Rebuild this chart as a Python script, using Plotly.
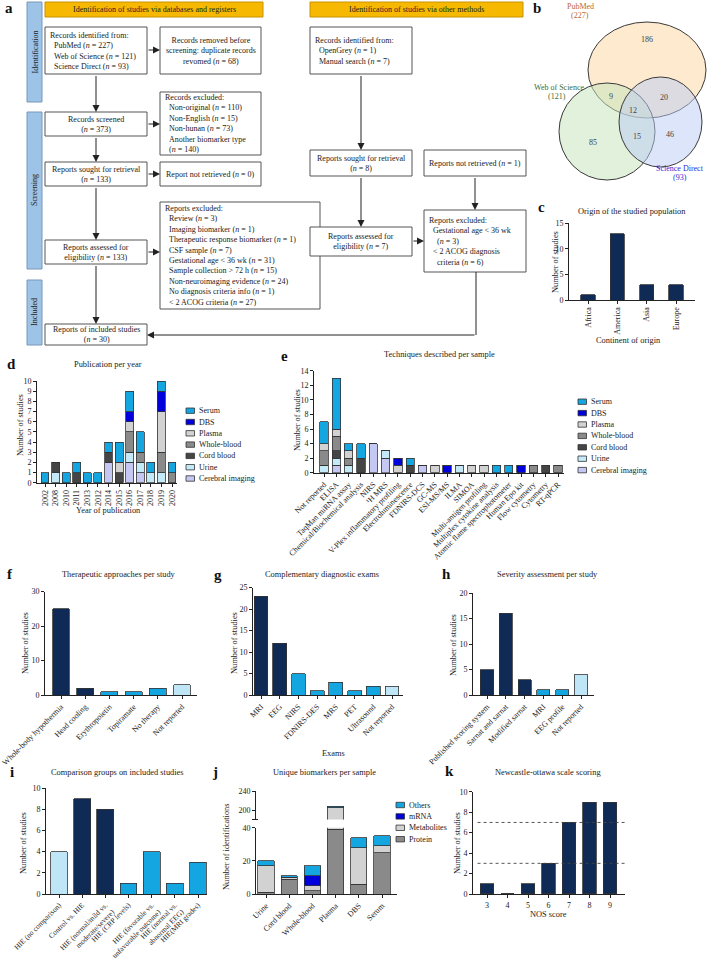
import plotly.graph_objects as go

W, H = 708, 962
FONT = "Liberation Serif"
INK = "#222222"

# ---------------- data ----------------
continents = ["Africa", "America", "Asia", "Europe"]
continent_counts = [1, 13, 3, 3]

years = ["2002", "2008", "2010", "2011", "2013", "2012", "2014", "2015", "2016", "2017", "2018", "2019", "2020"]
year_cerebral = [0, 0, 0, 0, 0, 0, 2, 0, 2, 1, 0, 0, 0]
year_urine    = [0, 1, 0, 0, 0, 0, 0, 0, 1, 1, 1, 1, 0]
year_cord     = [0, 1, 0, 1, 0, 0, 1, 1, 0, 0, 0, 0, 0]
year_whole    = [0, 0, 0, 0, 0, 0, 0, 0, 2, 1, 0, 2, 1]
year_plasma   = [0, 0, 0, 0, 0, 0, 0, 1, 1, 0, 0, 4, 0]
year_dbs      = [0, 0, 0, 0, 0, 0, 0, 0, 1, 0, 0, 2, 0]
year_serum    = [1, 0, 1, 1, 1, 1, 1, 2, 2, 2, 1, 1, 1]

sample_names = ["Cerebral imaging", "Urine", "Cord blood", "Whole-blood", "Plasma", "DBS", "Serum"]

techniques = ["Not reported", "ELISA", "TaqMan miRNA assay", "Chemical/Biochemical analysis", "NIRS",
              "\u00b9H MRS", "V-Plex inflammatory profiling", "Electroluminescence", "FDNIRS-DCS", "GC-MS",
              "ESI-MS/MS", "ILMA", "SIMOA", "Multi-antigen profiling", "Multiplex cytokine analysis",
              "Atomic flame spectrophotometer", "Human Epo kit", "Flow cytometry", "Cytometry", "RT-qPCR"]
tech_cerebral = [0, 1, 0, 0, 4, 2, 0, 0, 1, 0, 0, 0, 0, 0, 0, 0, 0, 0, 0, 0]
tech_urine    = [1, 1, 1, 0, 0, 1, 0, 0, 0, 0, 0, 1, 0, 0, 0, 0, 0, 0, 0, 0]
tech_cord     = [0, 1, 0, 2, 0, 0, 0, 1, 0, 0, 0, 0, 0, 0, 0, 0, 0, 0, 1, 0]
tech_whole    = [2, 2, 1, 0, 0, 0, 0, 0, 0, 0, 0, 0, 0, 0, 0, 0, 0, 1, 0, 1]
tech_plasma   = [1, 1, 1, 0, 0, 0, 1, 0, 0, 1, 0, 0, 1, 1, 0, 0, 0, 0, 0, 0]
tech_dbs      = [0, 0, 0, 0, 0, 0, 1, 0, 0, 0, 1, 0, 0, 0, 0, 0, 1, 0, 0, 0]
tech_serum    = [3, 7, 1, 2, 0, 0, 0, 1, 0, 0, 0, 0, 0, 0, 1, 1, 0, 0, 0, 0]

therapies = ["Whole-body hypothermia", "Head cooling", "Erythropoietin", "Topiramate", "No therapy", "Not reported"]
therapy_counts = [25, 2, 1, 1, 2, 3]
therapy_group = ["main", "main", "other", "other", "other", "none"]

exams = ["MRI", "EEG", "NIRS", "FDNIRS-DES", "MRS", "PET", "Ultrasound", "Not reported"]
exam_counts = [23, 12, 5, 1, 3, 1, 2, 2]
exam_group = ["main", "main", "other", "other", "other", "other", "other", "none"]

severity = ["Published scoring system", "Sarnat and sarnat", "Modified sarnat", "MRI", "EEG profile", "Not reported"]
severity_counts = [5, 16, 3, 1, 1, 4]
severity_group = ["main", "main", "main", "other", "other", "none"]

comparisons = ["HIE (no comparison)", "Control vs. HIE", "HIE (normal/mild vs.<br>moderate/severe)",
               "HIE (CRP levels)", "HIE (favorable vs.<br>unfavorable outcome)", "HIE (normal vs.<br>abnormal EEG)",
               "HIE(MRI grades)"]
comparison_counts = [4, 9, 8, 1, 4, 1, 3]
comparison_group = ["none", "main", "main", "other", "other", "other", "other"]

bio_samples = ["Urine", "Cord blood", "Whole-blood", "Plasma", "DBS", "Serum"]
bio_protein     = [1, 9, 2, 39, 6, 25]
bio_metabolites = [16, 1, 3, 166, 22, 4]
bio_mrna        = [0, 0, 6, 0, 0, 0]
bio_others      = [3, 1, 6, 3, 6, 6]
bio_names = ["Protein", "Metabolites", "mRNA", "Others"]

nos_scores = ["3", "4", "5", "6", "7", "8", "9"]
nos_counts = [1, 0, 1, 3, 7, 9, 9]
nos_thresholds = [3, 7]

# ---------------- styles ----------------
NAVY = "#0f2a55"
CYAN = "#14a6e0"
LIGHT = "#bfe6f7"
GROUP_COL = {"main": NAVY, "other": CYAN, "none": LIGHT}
SAMPLE_COL = {"Cerebral imaging": "#c6c8f4", "Urine": "#c4e9f7", "Cord blood": "#454545",
              "Whole-blood": "#8a8a8a", "Plasma": "#d2d2d2", "DBS": "#0000dd", "Serum": "#14a6e0"}
BIO_COL = {"Protein": "#8a8a8a", "Metabolites": "#d2d2d2", "mRNA": "#0000dd", "Others": "#14a6e0"}
EDGE = dict(color="#333333", width=0.8)
FLOW = 8.0     # flow chart text size
TXT = 8.4      # titles / axis titles
TICK = 8.0     # tick labels


def X(px):
    return px / W


def Y(py):
    return 1 - py / H


shapes = []
annotations = []


def text(x, y, s, size=TXT, color=INK, xanchor="center", yanchor="middle", align="center", angle=0):
    annotations.append(dict(x=X(x), y=Y(y), xref="paper", yref="paper", text=s, showarrow=False,
                            font=dict(family=FONT, size=size, color=color), xanchor=xanchor,
                            yanchor=yanchor, align=align, textangle=angle))


def rect(x0, y0, x1, y1, fill="white", line="#555555", width=1, layer="above"):
    shapes.append(dict(type="rect", xref="paper", yref="paper", x0=X(x0), x1=X(x1), y0=Y(y1), y1=Y(y0),
                       fillcolor=fill, line=dict(color=line, width=width), layer=layer))


def line(x0, y0, x1, y1, color=INK, width=1, dash="solid"):
    shapes.append(dict(type="line", xref="paper", yref="paper", x0=X(x0), x1=X(x1), y0=Y(y0), y1=Y(y1),
                       line=dict(color=color, width=width, dash=dash)))


def arrow(x0, y0, x1, y1):
    annotations.append(dict(x=X(x1), y=Y(y1), xref="paper", yref="paper", ax=x0 - x1, ay=y0 - y1,
                            axref="pixel", ayref="pixel", text=" ", font=dict(size=1), showarrow=True,
                            arrowhead=2, arrowsize=1.4, arrowwidth=1, arrowcolor=INK, standoff=0))


def box(x0, y0, x1, y1, s, align="center", size=FLOW):
    rect(x0, y0, x1, y1, layer="below")
    if align == "left":
        text(x0 + 3, (y0 + y1) / 2, s, size=size, xanchor="left", align="left")
    else:
        text((x0 + x1) / 2, (y0 + y1) / 2, s, size=size)


def letter(x, y, s):
    text(x, y, "<b>%s</b>" % s, size=15, color="#111111")


NB = "\u00a0\u00a0"
n_ = "<i>n</i>"

# ---------------- panel a: flow diagram ----------------
letter(9, 8, "a")
rect(45, 2, 263, 17, fill="#f6b800", line="#c89200", layer="below")
text(154, 9.5, "Identification of studies via databases and registers", size=FLOW)
rect(310, 2, 523, 17, fill="#f6b800", line="#c89200", layer="below")
text(416, 9.5, "Identification of studies via other methods", size=FLOW)

for (y0, y1, lab) in [(2, 102, "Identification"), (112, 269, "Screening"), (280, 345, "Included")]:
    rect(27, y0, 42, y1, fill="#9dc3e6", line="#7898bb", layer="below")
    text(34.5, (y0 + y1) / 2, lab, angle=-90, size=FLOW)

box(45, 27, 147, 74, "Records identified from:<br>" + NB + "PubMed (%s = 227)<br>" % n_ + NB +
    "Web of Science (%s = 121)<br>" % n_ + NB + "Science Direct (%s = 93)" % n_, align="left")
box(160, 27, 261, 74, "Records removed before<br>screening: duplicate records<br>revomed (%s = 68)" % n_)
box(45, 112, 147, 136, "Records screened<br>(%s = 373)" % n_)
box(160, 92, 261, 155, "Records excluded:<br>" + NB + "Non-original (%s = 110)<br>" % n_ + NB +
    "Non-English (%s = 15)<br>" % n_ + NB + "Non-hunan (%s = 73)<br>" % n_ + NB +
    "Another biomarker type<br>" + NB + "(%s = 140)" % n_, align="left")
box(45, 162, 147, 186, "Reports sought for retrieval<br>(%s = 133)" % n_)
box(160, 162, 261, 186, "Report not retrieved (%s = 0)" % n_)
box(45, 240, 147, 264, "Reports assessed for<br>eligibility (%s = 133)" % n_)
excl = ["Review (%s = 3)", "Imaging biomarker (%s = 1)", "Therapeutic response biomarker (%s = 1)",
        "CSF sample (%s = 7)", "Gestational age &lt; 36 wk (%s = 31)", "Sample collection &gt; 72 h (%s = 15)",
        "Non-neuroimaging evidence (%s = 24)", "No diagnosis criteria info (%s = 1)", "&lt; 2 ACOG criteria (%s = 27)"]
box(160, 202, 320, 309, "Reports excluded:<br>" + "<br>".join(NB + e % n_ for e in excl), align="left")
box(45, 324, 147, 345, "Reports of included studies<br>(%s = 30)" % n_)

box(310, 27, 412, 74, "Records identified from:<br>" + NB + "OpenGrey (%s = 1)<br>" % n_ + NB +
    "Manual search (%s = 7)" % n_, align="left")
box(310, 150, 412, 176, "Reports sought for retrieval<br>(%s = 8)" % n_)
box(424, 150, 526, 176, "Reports not retrieved (%s = 1)" % n_)
box(310, 227, 412, 256, "Reports assessed for<br>eligibility (%s = 7)" % n_)
box(424, 210, 526, 272, "Reports excluded:<br>" + NB + "Gestational age &lt; 36 wk<br>" + NB + NB +
    "(%s = 3)<br>" % n_ + NB + "&lt; 2 ACOG diagnosis<br>" + NB + NB + "criteria (%s = 6)" % n_, align="left")

arrow(96, 74, 96, 112)
arrow(96, 136, 96, 162)
arrow(96, 186, 96, 240)
arrow(96, 264, 96, 324)
arrow(147, 50, 160, 50)
arrow(147, 124, 160, 124)
arrow(147, 174, 160, 174)
arrow(147, 252, 160, 252)
arrow(361, 74, 361, 150)
arrow(361, 176, 361, 227)
arrow(475, 176, 475, 210)
arrow(412, 241, 424, 241)
line(476, 272, 476, 335)
arrow(476, 335, 147, 335)

# ---------------- panel b: Venn ----------------
letter(537, 8, "b")
for (x0, y0, x1, y1, fill) in [(588, 22, 706, 118, "rgba(251,214,160,0.5)"),
                               (559, 83, 655, 180, "rgba(196,228,186,0.5)"),
                               (619, 77, 702, 167, "rgba(188,203,245,0.5)")]:
    shapes.append(dict(type="circle", xref="paper", yref="paper", x0=X(x0), x1=X(x1), y0=Y(y1), y1=Y(y0),
                       fillcolor=fill, line=dict(color="#3a3a3a", width=1)))
text(580, 6, "PubMed", color="#b8693a", size=FLOW)
text(580, 15.5, "(227)", color="#b8693a", size=FLOW)
text(559, 87, "Web of Science", color="#3f6d30", size=FLOW)
text(557, 97, "(121)", color="#3f6d30", size=FLOW)
text(680, 168, "Science Direct", color="#2a2ad8", size=FLOW)
text(680, 178, "(93)", color="#2a2ad8", size=FLOW)
for (x, y, s) in [(647, 39, "186"), (611, 96, "9"), (664, 98, "20"), (633, 110, "12"),
                  (593, 142, "85"), (637, 136, "15"), (670, 134, "46")]:
    text(x, y, s, color="#444444", size=FLOW)

# ---------------- bar panels ----------------
layout_axes = {}
traces = []


def make_axes(k, dom_x, dom_y, yrange, dtick, n, c0, c1, tickangle, tick0=0, showticks=True, showxline=True,
              xtick=TICK):
    unit = (c1 - c0) / (n - 1)
    lo = -(c0 - dom_x[0]) / unit
    hi = (n - 1) + (dom_x[1] - c1) / unit
    sfx = "" if k == 1 else str(k)
    layout_axes["xaxis" + sfx] = dict(
        domain=[X(dom_x[0]), X(dom_x[1])], anchor="y" + sfx, type="category", range=[lo, hi],
        showline=showxline, linecolor="#222222", linewidth=1, ticks="outside" if showticks else "",
        ticklen=3, tickcolor="#222222", tickangle=tickangle, showticklabels=showticks, automargin=False,
        tickfont=dict(family=FONT, size=xtick, color="#222222"), showgrid=False, zeroline=False, fixedrange=True)
    layout_axes["yaxis" + sfx] = dict(
        domain=[Y(dom_y[1]), Y(dom_y[0])], anchor="x" + sfx, range=yrange, dtick=dtick, tick0=tick0,
        showline=True, linecolor="#222222", linewidth=1, ticks="outside", ticklen=3, tickcolor="#222222",
        automargin=False, tickfont=dict(family=FONT, size=TICK, color="#222222"), showgrid=False,
        zeroline=False, fixedrange=True)
    return "x" + sfx, "y" + sfx


def simple_bars(k, cats, vals, colors, width):
    xa, ya = "x" + ("" if k == 1 else str(k)), "y" + ("" if k == 1 else str(k))
    traces.append(go.Bar(x=cats, y=vals, xaxis=xa, yaxis=ya, width=width, showlegend=False,
                         marker=dict(color=colors, line=EDGE)))


def legend_box(x, y_first, names, colmap, step=11.4):
    for i, nm in enumerate(names):
        yc = y_first + i * step
        rect(x, yc - 2.7, x + 8.5, yc + 2.7, fill=colmap[nm], line="#333333", width=0.8)
        text(x + 11, yc, nm, xanchor="left", size=TICK)


def ytitle(x, y, s):
    text(x, y, s, angle=-90)


# c
letter(541, 207, "c")
text(632, 211, "Origin of the studied population")
make_axes(1, (569, 695), (223.3, 300), [0, 15], 5, 4, 588, 676, -90)
simple_bars(1, continents, continent_counts, NAVY, 0.48)
ytitle(555, 262, "Number of studies")
text(628, 340, "Continent of origin")

# d
letter(11, 364, "d")
text(108, 364, "Publication per year")
make_axes(2, (37, 177), (381, 482.7), [0, 10], 1, 13, 45, 172, -90)
year_series = [year_cerebral, year_urine, year_cord, year_whole, year_plasma, year_dbs, year_serum]
for nm, vals in zip(sample_names, year_series):
    traces.append(go.Bar(x=years, y=vals, xaxis="x2", yaxis="y2", width=0.75, showlegend=False,
                         marker=dict(color=SAMPLE_COL[nm], line=EDGE)))
legend_box(186, 410.7, sample_names[::-1], SAMPLE_COL, step=11.3)
ytitle(20, 425, "Number of studies")
text(108, 510, "Year of publication")

# e
letter(284, 356, "e")
text(439, 355, "Techniques described per sample")
make_axes(3, (314, 564), (370.9, 472.7), [0, 14], 2, 20, 324, 558, -45)
tech_series = [tech_cerebral, tech_urine, tech_cord, tech_whole, tech_plasma, tech_dbs, tech_serum]
for nm, vals in zip(sample_names, tech_series):
    traces.append(go.Bar(x=techniques, y=vals, xaxis="x3", yaxis="y3", width=0.68, showlegend=False,
                         marker=dict(color=SAMPLE_COL[nm], line=EDGE)))
legend_box(578, 401.7, sample_names[::-1], SAMPLE_COL, step=11.4)
ytitle(297, 420, "Number of studies")

# f
letter(10, 574, "f")
text(119, 574, "Therapeutic approaches per study")
make_axes(4, (45, 197), (591.5, 695), [0, 30], 10, 6, 61, 182, -45)
simple_bars(4, therapies, therapy_counts, [GROUP_COL[g] for g in therapy_group], 0.7)
ytitle(25, 643, "Number of studies")

# g
letter(218, 575, "g")
text(322, 574, "Complementary diagnostic exams")
make_axes(5, (253, 403), (587.5, 695), [0, 25], 5, 8, 261, 392, -45)
simple_bars(5, exams, exam_counts, [GROUP_COL[g] for g in exam_group], 0.74)
ytitle(234, 643, "Number of studies")
text(333, 753, "Exams")

# h
letter(446, 574, "h")
text(547, 574, "Severity assessment per study")
make_axes(6, (473, 594), (593, 695), [0, 20], 5, 6, 487, 581, -45)
simple_bars(6, severity, severity_counts, [GROUP_COL[g] for g in severity_group], 0.7)
ytitle(453, 645, "Number of studies")

# i
letter(12, 772, "i")
text(117, 772, "Comparison groups on included studies")
make_axes(7, (46, 207), (788, 894), [0, 10], 2, 7, 59, 198, -45, xtick=7.4)
simple_bars(7, comparisons, comparison_counts, [GROUP_COL[g] for g in comparison_group], 0.72)
ytitle(23, 843, "Number of studies")

# j (broken axis)
letter(215, 772, "j")
text(324, 772, "Unique biomarkers per sample")
make_axes(8, (256, 397), (827.7, 894), [0, 40], 20, 6, 266, 382, -45)
make_axes(9, (256, 397), (791, 819.5), [180, 240], 40, 6, 266, 382, 0, tick0=200, showticks=False,
          showxline=False)
bio_series = [bio_protein, bio_metabolites, bio_mrna, bio_others]
for k in (8, 9):
    for nm, vals in zip(bio_names, bio_series):
        traces.append(go.Bar(x=bio_samples, y=vals, xaxis="x%d" % k, yaxis="y%d" % k, width=0.7,
                             showlegend=False, marker=dict(color=BIO_COL[nm], line=EDGE)))
line(252, 819.5, 258, 819.5)
legend_box(396, 805, bio_names[::-1], BIO_COL, step=11.4)
ytitle(226, 847, "Number of identifications")

# k
letter(449, 771, "k")
text(548, 772, "Newcastle-ottawa scale scoring")
make_axes(10, (473, 625), (791.8, 894), [0, 10], 2, 7, 487, 610, 0)
simple_bars(10, nos_scores, nos_counts, NAVY, 0.68)
for t in nos_thresholds:
    shapes.append(dict(type="line", xref="x10 domain", yref="y10", x0=0.03, x1=1.0, y0=t, y1=t,
                       line=dict(color="#444444", width=0.9, dash="dot")))
ytitle(457, 843, "Number of studies")
text(548, 914, "NOS score")

fig = go.Figure(data=traces)
fig.update_layout(width=W, height=H, margin=dict(l=0, r=0, t=0, b=0, autoexpand=False), autosize=False,
                  paper_bgcolor="white", plot_bgcolor="rgba(0,0,0,0)", barmode="stack", bargap=0.3,
                  font=dict(family=FONT, size=TXT, color=INK), showlegend=False,
                  shapes=shapes, annotations=annotations, **layout_axes)
fig.write_html("out.html", config={"displayModeBar": False, "staticPlot": True},
               post_script="document.body.style.margin='0';document.body.style.overflow='hidden';")
